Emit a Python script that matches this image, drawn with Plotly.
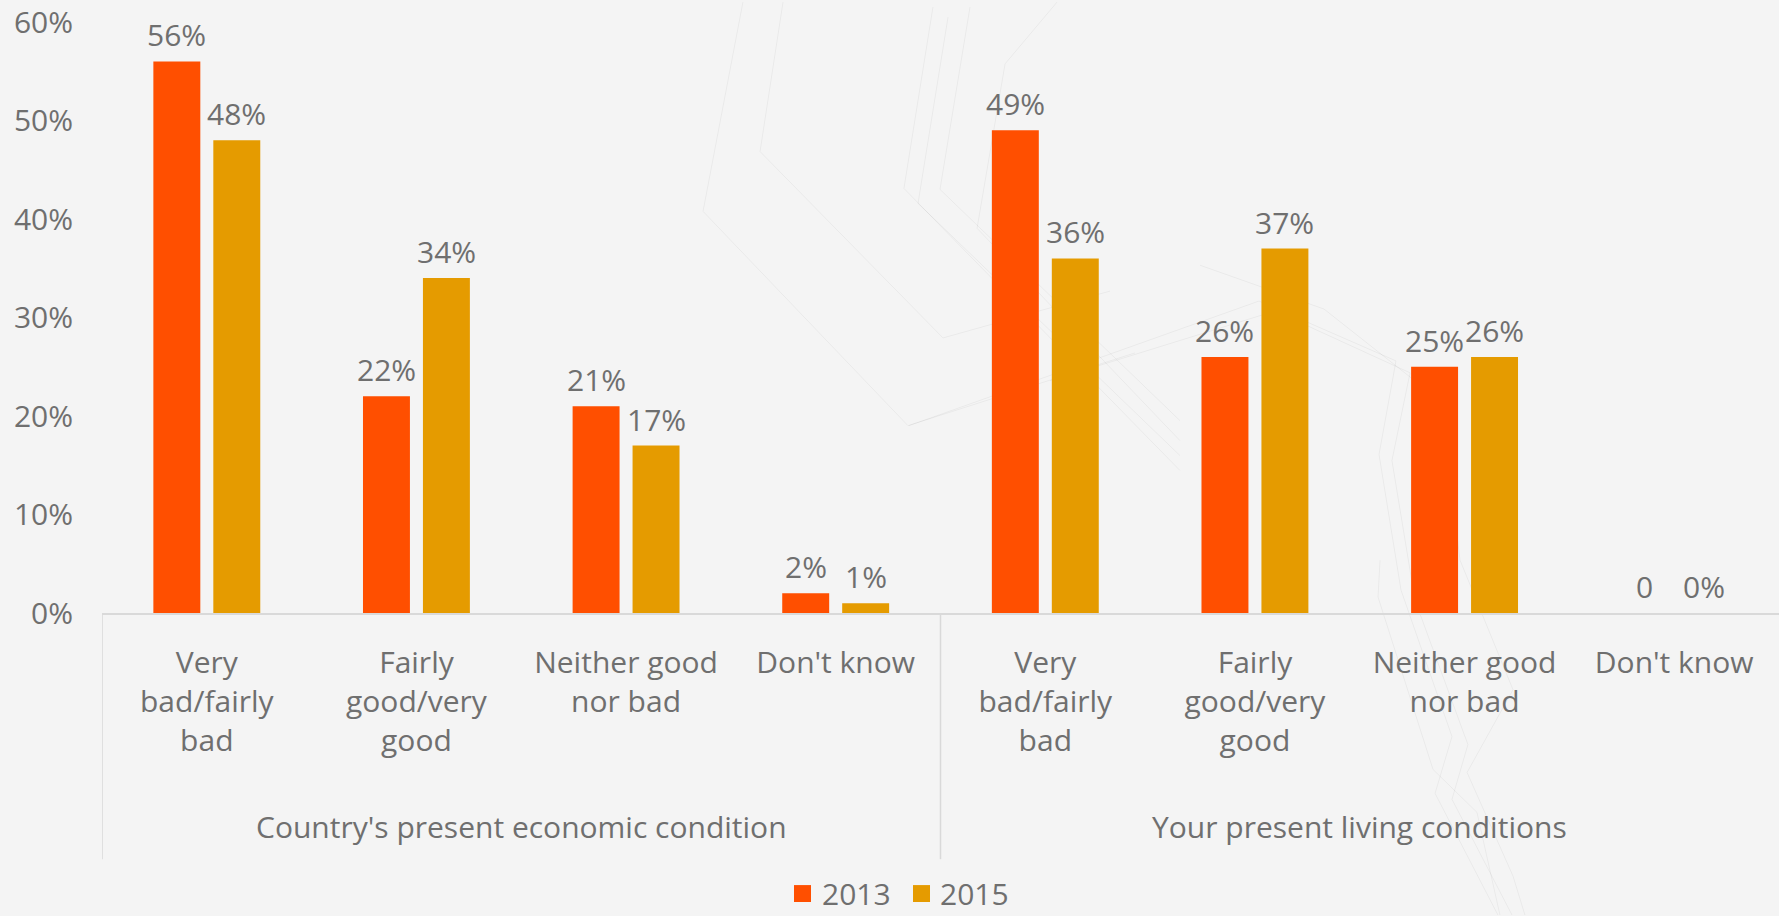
import plotly.graph_objects as go

# Survey categories (two question groups, four answers each)
groups = ["Country's present economic condition", "Your present living conditions"]
answers = ["Very<br>bad/fairly<br>bad", "Fairly<br>good/very<br>good", "Neither good<br>nor bad", "Don't know"]
categories = answers + answers

years = ["2013", "2015"]
values_2013 = [0.56, 0.22, 0.21, 0.02, 0.49, 0.26, 0.25, 0.0]
values_2015 = [0.48, 0.34, 0.17, 0.01, 0.36, 0.37, 0.26, 0.0]

labels_2013 = [f"{v:.0%}" for v in values_2013]
labels_2013[-1] = "0"  # this cell was entered as a plain number in the source table
labels_2015 = [f"{v:.0%}" for v in values_2015]

colors = {"2013": "#FF4F00", "2015": "#E59B00"}
text_color = "#6F6F6F"
line_color = "#D9D9D9"
font_family = "Open Sans, sans-serif"
fs = 30

W, H = 1779, 916
ML, MR, MT, MB = 102, 0, 20, 303
plot_w = W - ML - MR
plot_h = H - MT - MB

# bar geometry in category units
bar_w = 0.224
inner_gap = 0.062
offsets = [-(bar_w + inner_gap / 2), inner_gap / 2]
x_idx = list(range(len(categories)))


def py(px_y):
    return (MT + plot_h - px_y) / plot_h


def px(px_x):
    return (px_x - ML) / plot_w


fig = go.Figure()
annotations = []
for yr, vals, labs, off in zip(years, [values_2013, values_2015], [labels_2013, labels_2015], offsets):
    fig.add_trace(go.Bar(
        x=x_idx, y=vals, name=yr, width=bar_w, offset=off,
        marker=dict(color=colors[yr], line=dict(width=0)),
        showlegend=False, hoverinfo="skip",
    ))
    # value labels above each bar
    for i, (v, lab) in enumerate(zip(vals, labs)):
        annotations.append(dict(
            x=i + off + bar_w / 2, y=v, xref="x", yref="y", text=lab,
            showarrow=False, yanchor="bottom", xanchor="center", yshift=4,
            font=dict(family=font_family, size=fs, color=text_color),
        ))

# group titles under the answer labels
for g, name in enumerate(groups):
    annotations.append(dict(
        x=g * 4 + 1.5, y=py(827), xref="x", yref="paper", text=name,
        showarrow=False, xanchor="center", yanchor="middle",
        font=dict(family=font_family, size=fs, color=text_color),
    ))

shapes = []
# group dividers below the axis
for xd in [-0.5, 3.5]:
    shapes.append(dict(type="line", xref="x", yref="paper", x0=xd, x1=xd, y0=0, y1=py(860),
                       line=dict(color=line_color, width=1.5), layer="above"))

# legend: colour swatch followed by the year
legend_y = 894
legend_items = [(794, 820), (913, 938)]
for yr, (sx, tx) in zip(years, legend_items):
    shapes.append(dict(type="rect", xref="paper", yref="paper",
                       x0=px(sx), x1=px(sx + 17), y0=py(legend_y + 9), y1=py(legend_y - 8),
                       fillcolor=colors[yr], line=dict(width=0)))
    annotations.append(dict(
        x=px(tx), y=py(legend_y), xref="paper", yref="paper", text=yr,
        showarrow=False, xanchor="left", yanchor="middle",
        font=dict(family=font_family, size=fs, color=text_color),
    ))

# faint decorative background strokes
deco = [
    [(743, 0), (703, 210), (908, 425), (1135, 352)],
    [(783, 0), (760, 150), (943, 337), (1110, 290)],
    [(933, 5), (904, 187), (1180, 470)],
    [(948, 15), (918, 202), (1180, 455)],
    [(970, 5), (940, 188), (1180, 420)],
    [(1057, 0), (1005, 62), (977, 227), (1180, 440)],
    [(909, 425), (1259, 300), (1396, 360), (1379, 454), (1401, 590), (1452, 737), (1435, 794), (1498, 916)],
    [(1050, 380), (1275, 310), (1410, 372), (1392, 460), (1415, 600), (1468, 745), (1452, 800), (1512, 916)],
    [(1200, 264), (1324, 308), (1440, 400), (1460, 560), (1513, 690), (1467, 773), (1513, 877), (1525, 916)],
    [(1380, 560), (1378, 597), (1433, 770), (1477, 813), (1500, 916)],
]
for pts in deco:
    path = "M " + " L ".join(f"{px(a):.4f},{py(b):.4f}" for a, b in pts)
    shapes.append(dict(type="path", xref="paper", yref="paper", path=path,
                       line=dict(color="rgba(0,0,0,0.045)", width=1), layer="below"))

fig.update_layout(
    width=W, height=H,
    margin=dict(l=ML, r=MR, t=MT, b=MB),
    paper_bgcolor="#F4F4F4", plot_bgcolor="rgba(0,0,0,0)",
    barmode="overlay",
    font=dict(family=font_family, size=fs, color=text_color),
    showlegend=False,
    annotations=annotations,
    shapes=shapes,
)
fig.update_xaxes(
    range=[-0.5, len(categories) - 0.5], tickmode="array", tickvals=x_idx, ticktext=categories,
    showline=True, linecolor=line_color, linewidth=1.5, showgrid=False, zeroline=False,
    ticks="", ticklabelstandoff=22, tickfont=dict(size=fs, color=text_color),
)
fig.update_yaxes(
    range=[0, 0.6], tickvals=[0, 0.1, 0.2, 0.3, 0.4, 0.5, 0.6], tickformat=".0%",
    showline=False, showgrid=False, zeroline=False, ticks="", ticklabelstandoff=28,
    ticklabeloverflow="allow", tickfont=dict(size=fs, color=text_color),
)

fig.write_html("out.html")
